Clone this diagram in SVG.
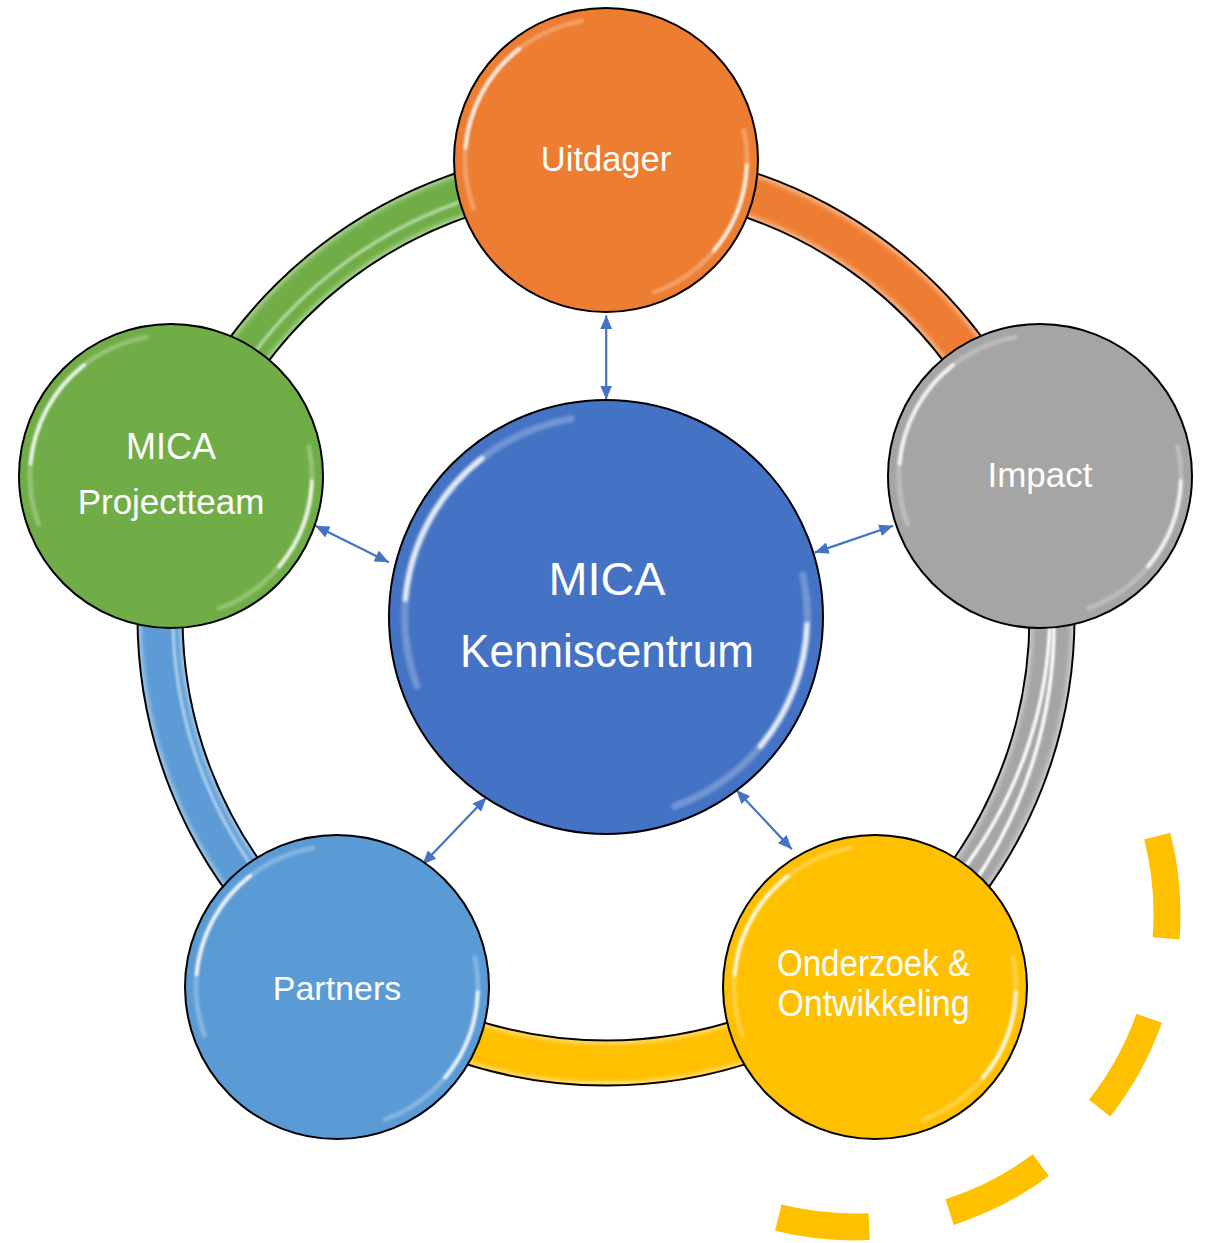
<svg xmlns="http://www.w3.org/2000/svg" xmlns:xlink="http://www.w3.org/1999/xlink" width="1206" height="1243" viewBox="0 0 1206 1243">
<style>
.lbl{fill:#fff;font-family:"Liberation Sans",Arial,sans-serif;text-anchor:middle}
.edge{fill:none;stroke:#000;stroke-width:47}
.band{fill:none;stroke-width:43}
.core{fill:none;stroke-width:37;filter:url(#soft)}
.stripe{fill:none;stroke-width:3.5;filter:url(#soft1)}
.node{stroke:#000;stroke-width:2}
.arr{stroke:#4472C4;stroke-width:2.2;fill:none;marker-start:url(#ah);marker-end:url(#ah)}
.gl{fill:none;stroke:#fff;stroke-linecap:round;filter:url(#soft1)}
</style>
<defs>
<filter id="soft" x="-20%" y="-20%" width="140%" height="140%"><feGaussianBlur stdDeviation="2"/></filter>
<filter id="soft1" x="-20%" y="-20%" width="140%" height="140%"><feGaussianBlur stdDeviation="1"/></filter>
<marker id="ah" viewBox="0 0 14 12" refX="14" refY="6" markerWidth="14" markerHeight="12" markerUnits="userSpaceOnUse" orient="auto-start-reverse">
<path d="M0,0 L14,6 L0,12 Z" fill="#4472C4"/>
</marker>
<g id="gloss">
<path class="gl" d="M -132.5 48.2 A 141 141 0 0 1 -24.5 -138.9" stroke-width="5" opacity="0.25"/>
<path class="gl" d="M -140.5 -12.3 A 141 141 0 0 1 -86.8 -111.1" stroke-width="3.5" opacity="0.85"/>
<path class="gl" d="M 137.9 -29.3 A 141 141 0 0 1 48.2 132.5" stroke-width="5" opacity="0.25"/>
<path class="gl" d="M 140.8 5 A 141 141 0 0 1 108 90.6" stroke-width="3.5" opacity="0.85"/>
</g>
</defs>
<rect width="1206" height="1243" fill="#fff"/>

<g id="dashed-arc">
<path d="M 1157.2 836.2 A 313 313 0 0 1 778.3 1217.7" fill="none" stroke="#FFC000" stroke-width="27" stroke-dasharray="103 82"/>
</g>

<g id="ring">
<circle cx="606" cy="617" r="446" class="edge"/>
<path d="M 606 171 A 446 446 0 0 1 1030.2 479.2" class="band" stroke="#F6B487"/>
<path d="M 606 171 A 446 446 0 0 1 1030.2 479.2" class="core" stroke="#ED7D31"/>
<path d="M 1030.2 479.2 A 446 446 0 0 1 868.2 977.8" class="band" stroke="#C9C9C9"/>
<path d="M 1030.2 479.2 A 446 446 0 0 1 868.2 977.8" class="core" stroke="#A5A5A5"/>
<path d="M 1030.2 479.2 A 433 433 0 0 1 860.5 967.3" class="stripe" stroke="#fff"/>
<path d="M 1030.2 479.2 A 458 458 0 0 1 875.2 987.5" class="stripe" stroke="#fff"/>
<path d="M 868.2 977.8 A 446 446 0 0 1 343.8 977.8" class="band" stroke="#FFD966"/>
<path d="M 868.2 977.8 A 446 446 0 0 1 343.8 977.8" class="core" stroke="#FFC000"/>
<path d="M 343.8 977.8 A 446 446 0 0 1 181.8 479.2" class="band" stroke="#9DC3E6"/>
<path d="M 343.8 977.8 A 446 446 0 0 1 181.8 479.2" class="core" stroke="#5B9BD5"/>
<path d="M 351.5 967.3 A 433 433 0 0 1 194.2 483.2" class="stripe" stroke="#BDD7EE" opacity="0.8"/>
<path d="M 181.8 479.2 A 446 446 0 0 1 606 171" class="band" stroke="#A9D18E"/>
<path d="M 181.8 479.2 A 446 446 0 0 1 606 171" class="core" stroke="#70AD47"/>
<path d="M 187.5 481.1 A 440 440 0 0 1 606 177" class="stripe" stroke="#C5E0B4" opacity="0.8"/>
</g>

<g id="connectors">
<line class="arr" x1="606.2" y1="399.5" x2="606.2" y2="315.3"/>
<line class="arr" x1="814.7" y1="552.6" x2="893.2" y2="525.8"/>
<line class="arr" x1="736.3" y1="789.9" x2="791.8" y2="849.2"/>
<line class="arr" x1="486.4" y1="797.5" x2="422.5" y2="864.5"/>
<line class="arr" x1="388.8" y1="562.2" x2="315.3" y2="525.8"/>
</g>

<g id="node-uitdager">
<circle cx="606" cy="160" r="152" fill="#ED7D31" class="node"/>
<use xlink:href="#gloss" href="#gloss" x="606" y="160"/>
<text class="lbl" x="606" y="171" font-size="34.5">Uitdager</text>
</g>

<g id="node-impact">
<circle cx="1040" cy="476" r="152" fill="#A5A5A5" class="node"/>
<use xlink:href="#gloss" href="#gloss" x="1040" y="476"/>
<text class="lbl" x="1040" y="487" font-size="35">Impact</text>
</g>

<g id="node-onderzoek">
<circle cx="875" cy="987" r="152" fill="#FFC000" class="node"/>
<use xlink:href="#gloss" href="#gloss" x="875" y="987"/>
<text class="lbl" x="873.5" y="976" font-size="36" textLength="193" lengthAdjust="spacingAndGlyphs">Onderzoek &amp;</text>
<text class="lbl" x="873.5" y="1016" font-size="36" textLength="192" lengthAdjust="spacingAndGlyphs">Ontwikkeling</text>
</g>

<g id="node-partners">
<circle cx="337" cy="987" r="152" fill="#5B9BD5" class="node"/>
<use xlink:href="#gloss" href="#gloss" x="337" y="987"/>
<text class="lbl" x="337" y="1000" font-size="34">Partners</text>
</g>

<g id="node-projectteam">
<circle cx="171" cy="476" r="152" fill="#70AD47" class="node"/>
<use xlink:href="#gloss" href="#gloss" x="171" y="476"/>
<text class="lbl" x="171" y="459" font-size="36">MICA</text>
<text class="lbl" x="171" y="514" font-size="35">Projectteam</text>
</g>

<g id="node-center">
<circle cx="606" cy="617" r="217" fill="#4472C4" class="node"/>
<use xlink:href="#gloss" href="#gloss" transform="translate(606 617) scale(1.428)"/>
<text class="lbl" x="607" y="595" font-size="47" textLength="117" lengthAdjust="spacingAndGlyphs">MICA</text>
<text class="lbl" x="607" y="667" font-size="47" textLength="294" lengthAdjust="spacingAndGlyphs">Kenniscentrum</text>
</g>
</svg>
